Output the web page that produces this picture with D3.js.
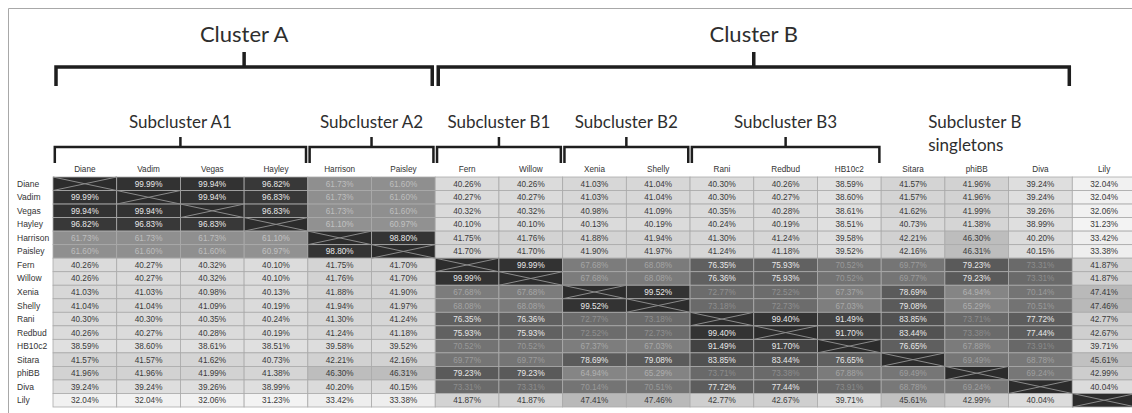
<!DOCTYPE html>
<html>
<head>
<meta charset="utf-8">
<script src="https://cdn.jsdelivr.net/npm/d3@7"></script>
<style>
  body { margin: 0; background: #fff; }
  svg { display: block; }
  .title { font-family: Lato, "Open Sans", sans-serif; fill: #2e2e2e; }
  .lab { font-family: "Liberation Sans", Arial, sans-serif; fill: #333; }
</style>
</head>
<body>
<svg id="chart" width="1132" height="413"></svg>
<script>
const W = 1132, H = 413;

var names = ["Diane", "Vadim", "Vegas", "Hayley", "Harrison", "Paisley", "Fern", "Willow",
             "Xenia", "Shelly", "Rani", "Redbud", "HB10c2", "Sitara", "phiBB", "Diva", "Lily"];

// percent identity, row by row (null = diagonal)
var identity = [
  [null, 99.99, 99.94, 96.82, 61.73, 61.60, 40.26, 40.26, 41.03, 41.04, 40.30, 40.26, 38.59, 41.57, 41.96, 39.24, 32.04],
  [99.99, null, 99.94, 96.83, 61.73, 61.60, 40.27, 40.27, 41.03, 41.04, 40.30, 40.27, 38.60, 41.57, 41.96, 39.24, 32.04],
  [99.94, 99.94, null, 96.83, 61.73, 61.60, 40.32, 40.32, 40.98, 41.09, 40.35, 40.28, 38.61, 41.62, 41.99, 39.26, 32.06],
  [96.82, 96.83, 96.83, null, 61.10, 60.97, 40.10, 40.10, 40.13, 40.19, 40.24, 40.19, 38.51, 40.73, 41.38, 38.99, 31.23],
  [61.73, 61.73, 61.73, 61.10, null, 98.80, 41.75, 41.76, 41.88, 41.94, 41.30, 41.24, 39.58, 42.21, 46.30, 40.20, 33.42],
  [61.60, 61.60, 61.60, 60.97, 98.80, null, 41.70, 41.70, 41.90, 41.97, 41.24, 41.18, 39.52, 42.16, 46.31, 40.15, 33.38],
  [40.26, 40.27, 40.32, 40.10, 41.75, 41.70, null, 99.99, 67.68, 68.08, 76.35, 75.93, 70.52, 69.77, 79.23, 73.31, 41.87],
  [40.26, 40.27, 40.32, 40.10, 41.76, 41.70, 99.99, null, 67.68, 68.08, 76.36, 75.93, 70.52, 69.77, 79.23, 73.31, 41.87],
  [41.03, 41.03, 40.98, 40.13, 41.88, 41.90, 67.68, 67.68, null, 99.52, 72.77, 72.52, 67.37, 78.69, 64.94, 70.14, 47.41],
  [41.04, 41.04, 41.09, 40.19, 41.94, 41.97, 68.08, 68.08, 99.52, null, 73.18, 72.73, 67.03, 79.08, 65.29, 70.51, 47.46],
  [40.30, 40.30, 40.35, 40.24, 41.30, 41.24, 76.35, 76.36, 72.77, 73.18, null, 99.40, 91.49, 83.85, 73.71, 77.72, 42.77],
  [40.26, 40.27, 40.28, 40.19, 41.24, 41.18, 75.93, 75.93, 72.52, 72.73, 99.40, null, 91.70, 83.44, 73.38, 77.44, 42.67],
  [38.59, 38.60, 38.61, 38.51, 39.58, 39.52, 70.52, 70.52, 67.37, 67.03, 91.49, 91.70, null, 76.65, 67.88, 73.91, 39.71],
  [41.57, 41.57, 41.62, 40.73, 42.21, 42.16, 69.77, 69.77, 78.69, 79.08, 83.85, 83.44, 76.65, null, 69.49, 68.78, 45.61],
  [41.96, 41.96, 41.99, 41.38, 46.30, 46.31, 79.23, 79.23, 64.94, 65.29, 73.71, 73.38, 67.88, 69.49, null, 69.24, 42.99],
  [39.24, 39.24, 39.26, 38.99, 40.20, 40.15, 73.31, 73.31, 70.14, 70.51, 77.72, 77.44, 73.91, 68.78, 69.24, null, 40.04],
  [32.04, 32.04, 32.06, 31.23, 33.42, 33.38, 41.87, 41.87, 47.41, 47.46, 42.77, 42.67, 39.71, 45.61, 42.99, 40.04, null]
];

var clusterLabels = ["Cluster A", "Cluster B"];
var clusterSpans = [["Diane", "Paisley"], ["Fern", "Diva"]];

var subLabels = ["Subcluster A1", "Subcluster A2", "Subcluster B1", "Subcluster B2", "Subcluster B3"];
var subSpans = [["Diane", "Hayley"], ["Harrison", "Paisley"], ["Fern", "Willow"],
                ["Xenia", "Shelly"], ["Rani", "HB10c2"]];

var singletonLabel = ["Subcluster B", "singletons"];
var singletonSpan = ["Sitara", "Diva"];

var svg = d3.select("#chart");

var x = d3.scaleBand().domain(names).range([53, 1136]);
var y = d3.scaleBand().domain(names).range([177, 407]);

var color = d3.scaleLinear()
    .domain([31, 40, 47, 62, 77, 100])
    .range(["#f4f4f4", "#dcdcdc", "#bababa", "#8e8e8e", "#5e5e5e", "#323232"]);

function textColor(v) {
  if (v >= 75) return "#e8e8e8";
  if (v >= 55) return d3.color(color(v)).brighter(0.8).formatHex();
  return "#3a3a3a";
}

// frame
svg.append("path")
   .attr("d", "M8.5," + H + "V8.5H" + W)
   .attr("fill", "none")
   .attr("stroke", "#a8a8a8")
   .attr("stroke-width", 1);

// cells
var cells = [];
identity.forEach(function(row, i) {
  row.forEach(function(v, j) {
    cells.push({r: names[i], c: names[j], v: v});
  });
});

var g = svg.append("g");
g.selectAll("rect")
  .data(cells)
  .enter().append("rect")
  .attr("x", d => x(d.c))
  .attr("y", d => y(d.r))
  .attr("width", x.bandwidth())
  .attr("height", y.bandwidth())
  .attr("fill", d => d.v == null ? "#2c2c2c" : color(d.v))
  .attr("stroke", "#aaaaaa")
  .attr("stroke-width", 0.8);

// diagonal crosses
cells.filter(d => d.v == null).forEach(function(d) {
  var x0 = x(d.c), y0 = y(d.r), w = x.bandwidth(), h = y.bandwidth();
  g.append("path")
   .attr("d", "M" + x0 + "," + y0 + "L" + (x0 + w) + "," + (y0 + h) +
              "M" + x0 + "," + (y0 + h) + "L" + (x0 + w) + "," + y0)
   .attr("stroke", "#8a8a8a")
   .attr("stroke-width", 1);
});

g.selectAll("text.val")
  .data(cells.filter(d => d.v != null))
  .enter().append("text")
  .attr("class", "val")
  .attr("x", d => x(d.c) + x.bandwidth() / 2)
  .attr("y", d => y(d.r) + y.bandwidth() / 2 + 3)
  .attr("text-anchor", "middle")
  .attr("font-family", "'Liberation Sans', Arial, sans-serif")
  .attr("font-size", 8.2)
  .attr("fill", d => textColor(d.v))
  .text(d => d.v.toFixed(2) + "%");

// column and row labels
svg.selectAll("text.col")
  .data(names)
  .enter().append("text")
  .attr("class", "lab")
  .attr("x", d => x(d) + x.bandwidth() / 2)
  .attr("y", 172)
  .attr("text-anchor", "middle")
  .attr("font-size", 8.2)
  .text(d => d);

svg.selectAll("text.row")
  .data(names)
  .enter().append("text")
  .attr("class", "lab")
  .attr("x", 17)
  .attr("y", d => y(d) + y.bandwidth() / 2 + 3)
  .attr("font-size", 8.5)
  .text(d => d);

// brackets
function bracket(span, label, hy, legY, tickY, sw, labelY, fs, inset) {
  var x0 = x(span[0]) + inset, x1 = x(span[1]) + x.bandwidth() - inset;
  var cx = (x(span[0]) + x(span[1]) + x.bandwidth()) / 2;
  svg.append("path")
     .attr("d", "M" + x0 + "," + legY + "V" + hy + "H" + x1 + "V" + legY +
                "M" + cx + "," + hy + "V" + tickY)
     .attr("fill", "none")
     .attr("stroke", "#1e1e1e")
     .attr("stroke-width", sw);
  svg.append("text")
     .attr("class", "title")
     .attr("x", cx)
     .attr("y", labelY)
     .attr("text-anchor", "middle")
     .attr("font-size", fs)
     .text(label);
}

clusterSpans.forEach(function(s, i) {
  bracket(s, clusterLabels[i], 67, 86, 52, 3.5, 42, 22, 3);
});
subSpans.forEach(function(s, i) {
  bracket(s, subLabels[i], 147, 163, 137, 2.5, 128, 17, 1.8);
});

svg.append("text")
   .attr("class", "title")
   .attr("x", x(singletonSpan[0]) + 47)
   .attr("y", 128)
   .attr("font-size", 17)
   .selectAll("tspan")
   .data(singletonLabel)
   .enter().append("tspan")
   .attr("x", x(singletonSpan[0]) + 47)
   .attr("dy", (d, i) => i == 0 ? 0 : 23)
   .text(d => d);
</script>
</body>
</html>
